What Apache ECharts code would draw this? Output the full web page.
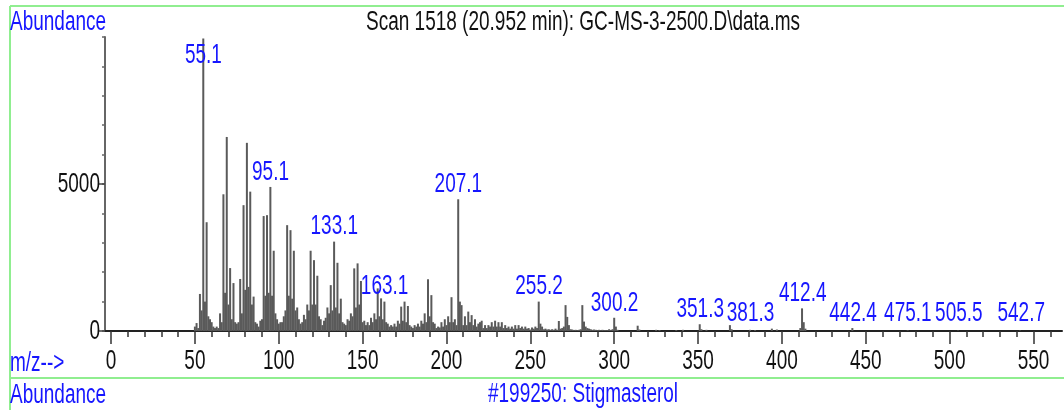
<!DOCTYPE html>
<html>
<head>
<meta charset="utf-8">
<title>Stigmasterol mass spectrum</title>
<script src="https://cdn.jsdelivr.net/npm/echarts@6/dist/echarts.min.js"></script>
<style>
  html, body { margin: 0; padding: 0; background: #fff; }
  #chart { width: 1064px; height: 410px; }
</style>
</head>
<body>
<div id="chart"></div>
<script>
  // unit-resolution spectrum, one abundance per m/z starting at mzStart
  var mzStart = 50;
  var abundance = [
    150, 270, 100, 1260, 700, 9950, 1000, 3700, 500, 400,      // 50
    300, 150, 100, 150, 100, 600, 300, 4650, 1300, 6600,       // 60
    900, 2140, 400, 1630, 300, 250, 300, 1770, 600, 4280,      // 70
    1400, 6400, 1500, 4740, 900, 1170, 300, 250, 150, 350,     // 80
    400, 3910, 1200, 3940, 1300, 4900, 1200, 2730, 600, 400,   // 90
    250, 300, 300, 500, 700, 3600, 1200, 3430, 1100, 2730,     // 100
    700, 800, 400, 250, 300, 550, 400, 900, 700, 2730,         // 110
    900, 2410, 900, 1880, 500, 400, 200, 350, 450, 800,        // 120
    600, 1560, 700, 3040, 800, 2320, 600, 1100, 300, 250,      // 130
    200, 400, 350, 600, 500, 2130, 800, 2300, 900, 1700,       // 140
    300, 350, 200, 300, 200, 450, 300, 600, 400, 1450,         // 150
    500, 1110, 400, 1000, 300, 250, 150, 200, 150, 250,        // 160
    150, 350, 250, 830, 350, 1000, 300, 850, 200, 150,         // 170
    100, 200, 150, 250, 150, 350, 250, 600, 300, 1760,         // 180
    500, 1220, 300, 250, 100, 150, 120, 300, 150, 400,         // 190
    200, 500, 300, 1150, 300, 400, 200, 4480, 1000, 880,       // 200
    200, 500, 200, 660, 300, 540, 200, 400, 150, 250,          // 210
    300, 350, 100, 200, 100, 200, 150, 300, 150, 350,          // 220
    150, 300, 150, 300, 100, 200, 100, 150, 80, 150,           // 230
    80, 200, 80, 200, 100, 150, 80, 150, 80, 100,              // 240
    50, 120, 80, 150, 100, 1000, 250, 150, 60, 80,             // 250
    50, 60, 40, 60, 40, 80, 40, 340, 80, 100,                  // 260
    150, 880, 480, 200, 60, 50, 30, 40, 30, 40,                // 270
    60, 880, 320, 150, 100, 80, 60, 40, 50, 40,                // 280
    30, 40, 30, 40, 30, 30, 30, 60, 30, 60,                    // 290
    450, 150, 40                                               // 300
  ];
  // sparse high-mass tail
  var tailMz = [314, 315, 325, 327, 337, 341, 351, 352, 355, 369, 370, 381, 384, 394, 397, 411, 412, 413, 414, 442, 475, 505, 542];
  var tailAbundance = [180, 50, 40, 30, 30, 40, 230, 60, 40, 200, 60, 40, 30, 80, 50, 100, 770, 300, 80, 100, 20, 15, 15];

  var peakLabels = [55.1, 95.1, 133.1, 163.1, 207.1, 255.2, 300.2, 351.3, 381.3, 412.4, 442.4, 475.1, 505.5, 542.7];
  var xTickLabels = [0, 50, 100, 150, 200, 250, 300, 350, 400, 450, 500, 550];
  var yTickLabels = [0, 5000];

  var titleText = 'Scan 1518 (20.952 min): GC-MS-3-2500.D\\data.ms';
  var compoundText = '#199250: Stigmasterol';

  var blue = '#1616ff';
  var font = '19px "Liberation Sans", Arial, sans-serif';
  var stretch = 1.45;   // the source text is drawn tall and narrow

  var spectrum = [];
  abundance.forEach(function (v, i) { spectrum.push([mzStart + i, v]); });
  tailMz.forEach(function (m, i) { spectrum.push([m, tailAbundance[i]]); });

  var minorX = [];
  for (var t = 0; t <= 560; t += 10) minorX.push(t);
  var minorY = [];
  for (var u = 0; u <= 10000; u += 1000) minorY.push(u);

  var chart = echarts.init(document.getElementById('chart'));

  chart.setOption({
    animation: false,
    grid: { left: 105, right: 2, top: 37, bottom: 79, containLabel: false },
    xAxis: [{
      type: 'value', min: -3.6, max: 567, position: 'bottom',
      splitLine: { show: false },
      axisLine: { onZero: false, lineStyle: { color: '#222', width: 2 } },
      axisTick: { customValues: minorX, length: 6, lineStyle: { color: '#333', width: 1.5 } },
      axisLabel: { show: false }
    }, {
      type: 'value', min: -3.6, max: 567, position: 'bottom',
      splitLine: { show: false },
      axisLine: { show: false, onZero: false },
      axisTick: { customValues: xTickLabels, length: 13, lineStyle: { color: '#333', width: 1.5 } },
      axisLabel: { show: false }
    }],
    yAxis: [{
      type: 'value', min: 0, max: 10000, position: 'left',
      splitLine: { show: false },
      axisLine: { show: true, onZero: false, lineStyle: { color: '#666', width: 2 } },
      axisTick: { show: true, customValues: minorY, length: 3, lineStyle: { color: '#666', width: 1.5 } },
      axisLabel: { show: false }
    }, {
      type: 'value', min: 0, max: 10000, position: 'left',
      splitLine: { show: false },
      axisLine: { show: false, onZero: false },
      axisTick: { show: true, customValues: yTickLabels, length: 6, lineStyle: { color: '#444', width: 1.5 } },
      axisLabel: { show: false }
    }],
    series: [{
      type: 'bar',
      xAxisIndex: 0,
      yAxisIndex: 0,
      barWidth: 2,
      data: spectrum,
      itemStyle: { color: '#5a5a5a' }
    }]
  });

  function txt(text, x, y, color, align, vAlign) {
    return {
      type: 'text', x: x, y: y, scaleY: stretch, z: 10, silent: true,
      style: { text: text, fill: color, font: font, textAlign: align, textVerticalAlign: vAlign }
    };
  }
  function toPx(x, y) {
    return chart.convertToPixel({ seriesIndex: 0 }, [x, y]);
  }
  function heightAt(mz) {
    var m = Math.round(mz);
    var best = 0;
    spectrum.forEach(function (p) { if (p[0] === m) best = p[1]; });
    return best;
  }

  var baseY = toPx(0, 0)[1];
  var plotTop = toPx(0, 10000)[1];
  var elements = [
    // frame lines
    { type: 'line', shape: { x1: 10, y1: 6, x2: 1064, y2: 6 }, style: { stroke: '#90ee90', lineWidth: 2 } },
    { type: 'line', shape: { x1: 10, y1: 6, x2: 10, y2: 410 }, style: { stroke: '#90ee90', lineWidth: 2 } },
    { type: 'line', shape: { x1: 10, y1: 378, x2: 1064, y2: 378 }, style: { stroke: '#90ee90', lineWidth: 2 } },
    txt('Abundance', 10, 22, blue, 'left', 'middle'),
    txt(titleText, 583, 22, '#111', 'center', 'middle'),
    txt('m/z-->', 10, 363, blue, 'left', 'middle'),
    txt('Abundance', 10, 395, blue, 'left', 'middle'),
    txt(compoundText, 583, 394, blue, 'center', 'middle')
  ];

  xTickLabels.forEach(function (v) {
    elements.push(txt(String(v), toPx(v, 0)[0], baseY + 30, '#111', 'center', 'middle'));
  });
  yTickLabels.forEach(function (v) {
    elements.push(txt(String(v), 100, toPx(0, v)[1], '#111', 'right', 'middle'));
  });
  // peak labels sit just above their peak, kept inside the plot
  peakLabels.forEach(function (mz) {
    var p = toPx(mz, heightAt(mz));
    var y = Math.min(p[1] - 1, baseY - 4);
    y = Math.max(y, plotTop + 32);
    elements.push(txt(mz.toFixed(1), p[0], y, blue, 'center', 'bottom'));
  });

  chart.setOption({ graphic: { elements: elements } });
</script>
</body>
</html>
